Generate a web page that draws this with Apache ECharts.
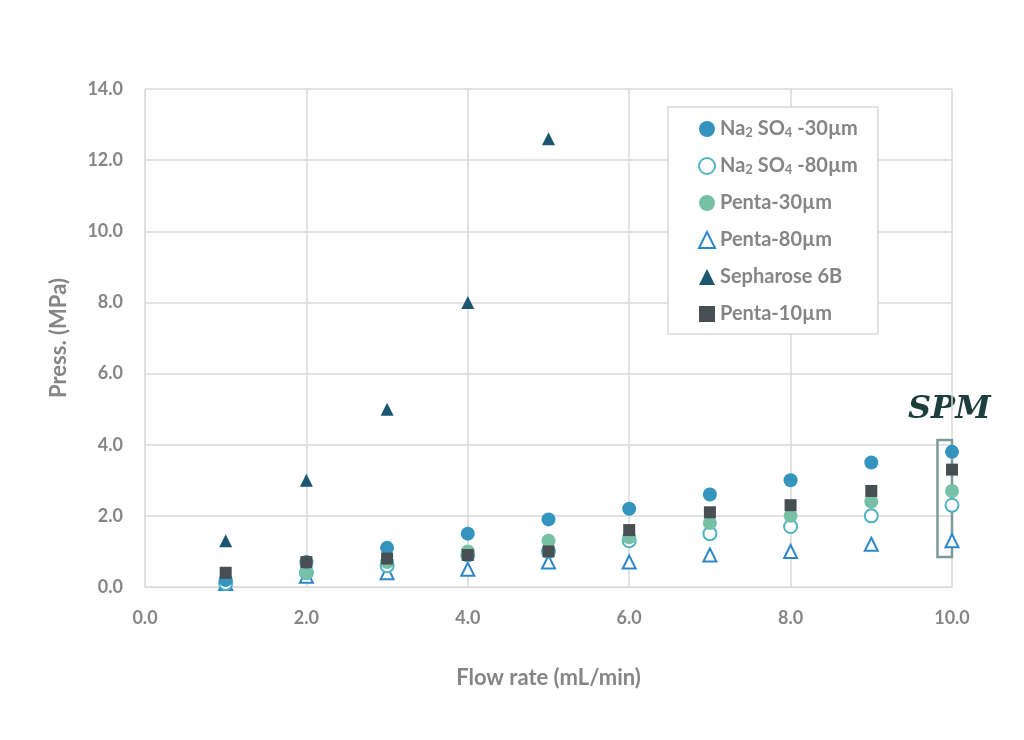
<!DOCTYPE html>
<html>
<head>
<meta charset="utf-8">
<script src="https://cdn.jsdelivr.net/npm/echarts@6/dist/echarts.min.js"></script>
<style>html,body{margin:0;background:#fff}#c{width:1024px;height:740px}</style>
</head>
<body>
<div id="c"></div>
<script>
var flow = [1, 2, 3, 4, 5, 6, 7, 8, 9, 10];
var na30 = [0.2, 0.7, 1.1, 1.5, 1.9, 2.2, 2.6, 3.0, 3.5, 3.8];
var na80 = [0.1, 0.4, 0.6, 0.9, 1.0, 1.3, 1.5, 1.7, 2.0, 2.3];
var penta30 = [0.2, 0.4, 0.7, 1.0, 1.3, 1.4, 1.8, 2.0, 2.4, 2.7];
var penta80 = [0.1, 0.3, 0.4, 0.5, 0.7, 0.7, 0.9, 1.0, 1.2, 1.3];
var sepharose = [1.3, 3.0, 5.0, 8.0, 12.6];
var penta10 = [0.4, 0.7, 0.8, 0.9, 1.0, 1.6, 2.1, 2.3, 2.7, 3.3];

function pts(vals) { return vals.map(function (v, i) { return [flow[i], v]; }); }

var font = 'Lato';
var grey = '#858585';
var chart = echarts.init(document.getElementById('c'));

function ser(name, vals, symbol, size, style) {
    style.opacity = 1;
    return { name: name, type: 'scatter', data: pts(vals), symbol: symbol, symbolSize: size, itemStyle: style, z: 3, clip: false };
}

var series = [
    ser('Penta-80µm', penta80, 'triangle', 13, { color: '#fff', borderColor: '#2e86c9', borderWidth: 2 }),
    ser('Na2SO4-80µm', na80, 'circle', 13, { color: '#fff', borderColor: '#4fb3c4', borderWidth: 2 }),
    ser('Penta-30µm', penta30, 'circle', 14, { color: '#76c0a5' }),
    ser('Na2SO4-30µm', na30, 'circle', 14, { color: '#3494be' }),
    ser('Sepharose 6B', sepharose, 'triangle', 13, { color: '#1d5670' }),
    ser('Penta-10µm', penta10, 'rect', 12, { color: '#474f52' })
];
// SPM highlight box
series[0].markArea = {
    silent: true,
    itemStyle: { color: 'rgba(0,0,0,0)', borderColor: '#7d9a98', borderWidth: 2.5, opacity: 1 },
    data: [[{ coord: [9.82, 0.84] }, { coord: [10.2, 4.13] }]]
};

chart.setOption({
    textStyle: { fontFamily: font },
    grid: { left: 145, right: 72, top: 89, bottom: 153 },
    xAxis: {
        min: 0, max: 10, interval: 2,
        name: 'Flow rate (mL/min)', nameLocation: 'middle', nameGap: 80,
        nameTextStyle: { color: grey, fontSize: 22, fontWeight: 'bold' },
        axisLine: { lineStyle: { color: '#d9d9d9' } },
        axisTick: { show: false },
        axisLabel: { color: grey, fontSize: 18, fontWeight: 'bold', margin: 22, formatter: function (v) { return v.toFixed(1); } },
        splitLine: { show: true, lineStyle: { color: '#d9d9d9', width: 1.5 } }
    },
    yAxis: {
        min: 0, max: 14, interval: 2,
        name: 'Press. (MPa)', nameLocation: 'middle', nameGap: 75,
        nameTextStyle: { color: grey, fontSize: 22, fontWeight: 'bold' },
        axisLine: { show: true, lineStyle: { color: '#d9d9d9' } },
        axisTick: { show: false },
        axisLabel: { color: grey, fontSize: 18, fontWeight: 'bold', margin: 22, formatter: function (v) { return v.toFixed(1); } },
        splitLine: { lineStyle: { color: '#d9d9d9', width: 1.5 } }
    },
    legend: {
        orient: 'vertical', left: 668, top: 107, width: 235,
        padding: [12, 20, 10, 30], itemGap: 17, itemWidth: 16, itemHeight: 16,
        borderColor: '#d9d9d9', borderWidth: 1.5, backgroundColor: '#fff',
        data: ['Na2SO4-30µm', 'Na2SO4-80µm', 'Penta-30µm', 'Penta-80µm', 'Sepharose 6B', 'Penta-10µm'],
        formatter: function (n) {
            if (n.indexOf('Na2SO4') === 0) return 'Na{s|2} SO{s|4} -' + n.slice(7);
            return n;
        },
        textStyle: {
            color: grey, fontSize: 20, fontWeight: 'bold', fontFamily: font,
            rich: { s: { fontSize: 13, color: grey, fontWeight: 'bold', verticalAlign: 'bottom', padding: [5, 0, 0, 0] } }
        }
    },
    graphic: [{
        type: 'text', left: 908, top: 394,
        style: { text: 'SPM', fill: '#1c3e3c', font: 'italic bold 32px "DejaVu Serif"' }
    }],
    series: series
});
</script>
</body>
</html>
